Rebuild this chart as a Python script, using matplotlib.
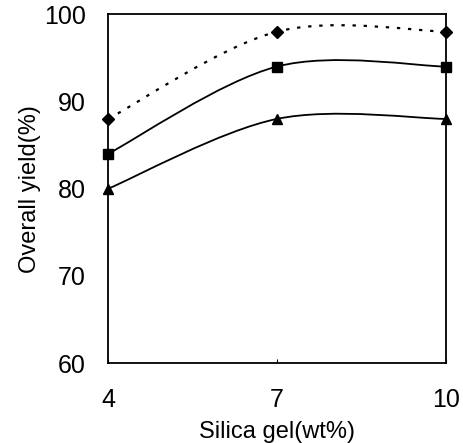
import matplotlib
matplotlib.use("Agg")
import matplotlib.pyplot as plt
from matplotlib.path import Path
from matplotlib.patches import PathPatch

silica = [4, 7, 10]
yield_diamond = [88, 98, 98]
yield_square = [84, 94, 94]
yield_triangle = [80, 88, 88]

plt.rcParams['font.family'] = ['Liberation Sans', 'DejaVu Sans']


def smooth_path(xs, ys):
    # excel-style smoothed line: cubic bezier, catmull-rom control points
    pts = list(zip(xs, ys))
    verts = [pts[0]]
    codes = [Path.MOVETO]
    n = len(pts)
    for i in range(n - 1):
        p0 = pts[i - 1] if i > 0 else pts[i]
        p1 = pts[i]
        p2 = pts[i + 1]
        p3 = pts[i + 2] if i + 2 < n else pts[i + 1]
        c1 = (p1[0] + (p2[0] - p0[0]) / 6, p1[1] + (p2[1] - p0[1]) / 6)
        c2 = (p2[0] - (p3[0] - p1[0]) / 6, p2[1] - (p3[1] - p1[1]) / 6)
        verts += [c1, c2, p2]
        codes += [Path.CURVE4] * 3
    return Path(verts, codes)


fig = plt.figure(figsize=(4.64, 4.43), dpi=100)
ax = fig.add_axes([0.233, 0.18, 0.728, 0.788])

series = [
    (yield_diamond, 'D', 6.5, (0, (1.5, 3.5)), 1.6),
    (yield_square, 's', 7.5, '-', 1.3),
    (yield_triangle, '^', 7.5, '-', 1.3),
]
for ys, mk, ms, ls, lw in series:
    patch = PathPatch(smooth_path(silica, ys), facecolor='none', edgecolor='black',
                      lw=lw, linestyle=ls, transform=ax.transData)
    ax.add_patch(patch)
    ax.plot(silica, ys, linestyle='none', marker=mk, markersize=ms, color='black',
            clip_on=False, zorder=3)

ax.set_xlim(4, 10)
ax.set_ylim(60, 100)
ax.set_xticks(silica)
ax.set_yticks([60, 70, 80, 90, 100])
ax.tick_params(axis='x', direction='in', length=3, pad=18, labelsize=18)
ax.tick_params(axis='y', length=0, pad=16, labelsize=18)
for s in ax.spines.values():
    s.set_linewidth(1.3)

ax.set_xlabel('Silica gel(wt%)', fontsize=17, labelpad=6)
ax.set_ylabel('Overall yield(%)', fontsize=17, labelpad=2)

fig.savefig('out.png', dpi=100)
